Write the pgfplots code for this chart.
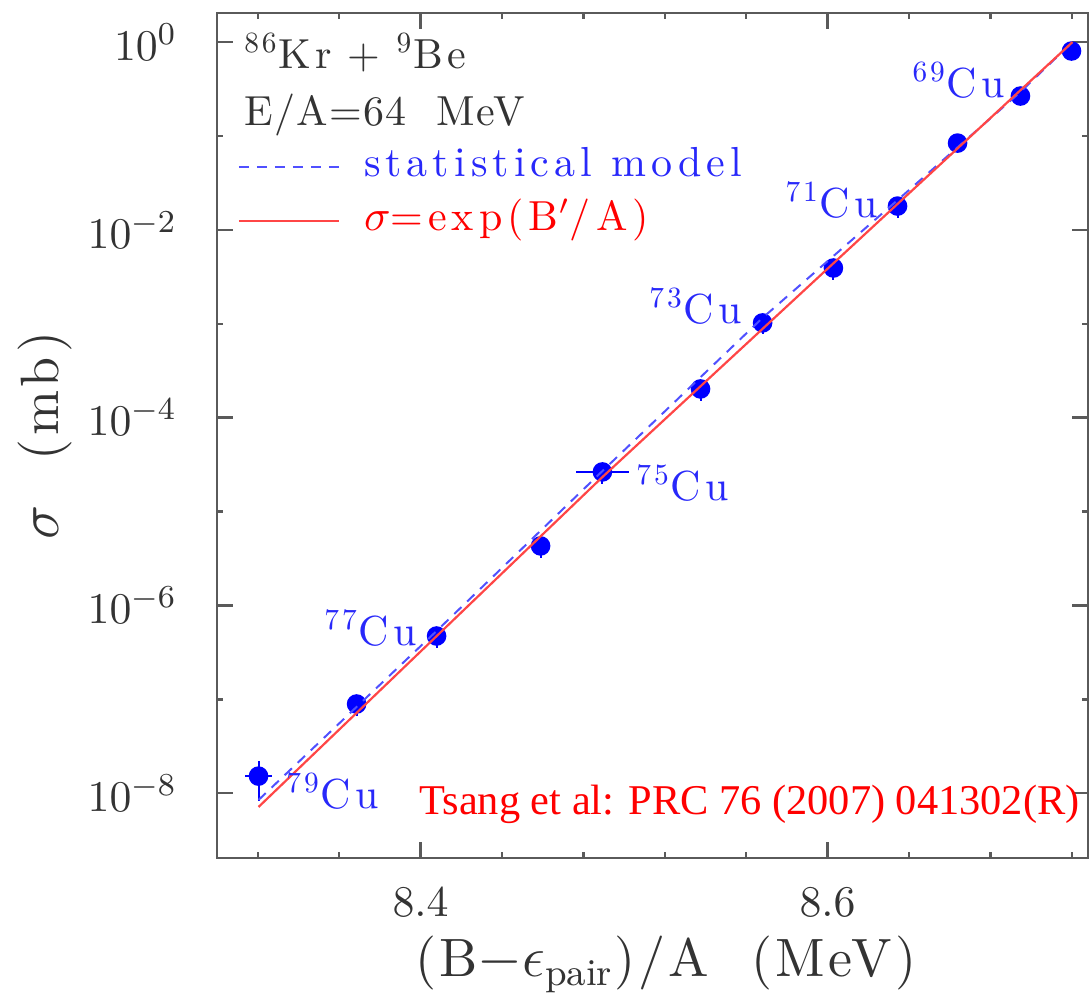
\documentclass[border=0pt]{standalone}
\usepackage{fontspec}
\usepackage{pgfplots}
\pgfplotsset{compat=1.18}
\newfontfamily\tfont{Liberation Serif}
\newfontfamily\hfA{lmroman10-regular.otf}[LetterSpace=10]
\newfontfamily\hfB{lmroman10-regular.otf}[LetterSpace=3]
\newfontfamily\hfX{lmroman10-regular.otf}[LetterSpace=6]
\newfontfamily\hfY{lmroman10-regular.otf}[LetterSpace=8]
\newfontfamily\hfL{lmroman10-regular.otf}[LetterSpace=12]
\newcommand\ann{\hfA\fontsize{10.5}{12}\selectfont}
\newcommand\E[1]{$10^{\hbox{\fontsize{8.5}{9}\selectfont$#1$}}$}
\definecolor{dblue}{RGB}{0,0,255}
\definecolor{tblue}{RGB}{40,40,250}
\definecolor{lblue}{RGB}{80,80,255}
\definecolor{lred}{RGB}{255,70,70}
\definecolor{fr}{RGB}{90,90,90}
\begin{document}
\begin{tikzpicture}
\begin{axis}[
  name=ax, at={(0,0)}, anchor=south west,
  scale only axis, width=217.75pt, height=211.25pt,
  xmin=8.30, xmax=8.728, ymode=log, ymin=2.04e-9, ymax=2.037,
  clip mode=individual,
  xtick={8.4,8.6},
  minor xtick={8.32,8.36,8.44,8.48,8.52,8.56,8.64,8.68,8.72},
  ytick={1e-8,1e-6,1e-4,1e-2,1},
  yticklabels={\E{-8},\E{-6},\E{-4},\E{-2},\E{0}},
  minor ytick={1e-7,1e-5,1e-3,1e-1},
  major tick length=4pt, minor tick length=1.5pt,
  every tick/.style={fr, line width=0.6pt},
  axis line style={fr, line width=0.7pt},
  tick label style={font=\fontsize{10.5}{12}\selectfont, text=black!80},
  xticklabel style={yshift=-4pt},
  yticklabel style={xshift=-6.5pt},
  xlabel={(B$-\epsilon_{\mathrm{pair}}$)/A\ \ (MeV)},
  ylabel={$\sigma$\ \ (mb)},
  xlabel style={at={(axis description cs:0.515,-0.1408)}, anchor=base, font=\hfX\fontsize{13.5}{15}\selectfont, text=black!80},
  ylabel style={at={(axis description cs:-0.1975,0.5)}, anchor=center, font=\hfY\fontsize{13.5}{15}\selectfont, text=black!80},
  legend style={draw=none, fill=none, at={(rel axis cs:0.023,0.8475)}, anchor=north west,
    inner sep=0pt, row sep=1.5pt, column sep=5pt,
    nodes={inner sep=1pt, text height=7.5pt, text depth=2.5pt, font=\hfL\fontsize{10.5}{12}\selectfont}},
  legend cell align=left,
  legend image code/.code={\draw[#1] (0pt,0pt) -- (25pt,0pt);},
]
\addplot[forget plot, only marks, mark=*, mark size=2.25pt, color=dblue,
  error bars/.cd, x dir=both, x explicit, y dir=both, y explicit,
  error bar style={line width=0.5pt, dblue}, error mark=none]
  table[x=x, y=y, x error=ex, y error plus=eyp, y error minus=eym] {
x y ex eyp eym
8.3204 1.52e-8 0.0065 0.69e-8 0.69e-8
8.3686 8.91e-8 0 2.2e-8 2.2e-8
8.4079 4.72e-7 0 1.2e-7 1.2e-7
8.4590 4.30e-6 0 1.1e-6 1.1e-6
8.4894 2.64e-5 0.013 6.6e-6 6.6e-6
8.5376 2.02e-4 0 5e-5 5e-5
8.5681 1.02e-3 0 2.5e-4 2.5e-4
8.6029 3.92e-3 0 9.8e-4 9.8e-4
8.6344 1.79e-2 0 4.5e-3 4.5e-3
8.6639 8.39e-2 0 8e-3 8e-3
8.6948 0.266 0 2.5e-2 2.5e-2
8.7199 0.802 0 7e-2 7e-2
};
\addplot[lblue, line width=0.5pt, dash pattern=on 2.5pt off 2pt] coordinates {
(8.3204,8.47e-9) (8.4084,5.47e-7) (8.4894,2.70e-5) (8.568,1.15e-3)
(8.6344,2.07e-2) (8.6948,0.294) (8.7204,1.0)};
\addlegendentry{\textcolor{tblue}{statistical model}}
\addplot[lred, line width=0.55pt] coordinates {
(8.3204,7.13e-9) (8.4894,2.33e-5) (8.7204,1.0)};
\addlegendentry{\textcolor{red}{$\sigma$=exp(B$'$/A)}}
\begin{scope}[every node/.style={inner sep=0pt}]
\node[anchor=base west, font=\ann, text=black!80] at (axis cs:8.3130,0.528) {\textsuperscript{86}Kr\hspace{4pt}+\hspace{4pt}\textsuperscript{9}Be};
\node[anchor=base west, font=\hfB\fontsize{10.5}{12}\selectfont, text=black!80] at (axis cs:8.3130,0.1306) {E/A=64\ \ MeV};
\node[anchor=base east, font=\ann, text=tblue] at (axis cs:8.6875,0.2594) {\textsuperscript{69}Cu};
\node[anchor=base east, font=\ann, text=tblue] at (axis cs:8.6251,1.368e-2) {\textsuperscript{71}Cu};
\node[anchor=base east, font=\ann, text=tblue] at (axis cs:8.5582,1.016e-3) {\textsuperscript{73}Cu};
\node[anchor=base west, font=\ann, text=tblue] at (axis cs:8.5057,1.324e-5) {\textsuperscript{75}Cu};
\node[anchor=base east, font=\ann, text=tblue] at (axis cs:8.3985,3.78e-7) {\textsuperscript{77}Cu};
\node[anchor=base west, font=\ann, text=tblue] at (axis cs:8.3337,6.95e-9) {\textsuperscript{79}Cu};
\node[anchor=base east, font=\tfont\fontsize{10.6}{12}\selectfont, text=red] at (axis cs:8.7243,5.86e-9) {Tsang et al: PRC 76 (2007) 041302(R)};
\end{scope}
\end{axis}
\pgfresetboundingbox
\path[use as bounding box] (-54.25pt,-34.75pt) rectangle (218.25pt,214.5pt);
\end{tikzpicture}
\end{document}
